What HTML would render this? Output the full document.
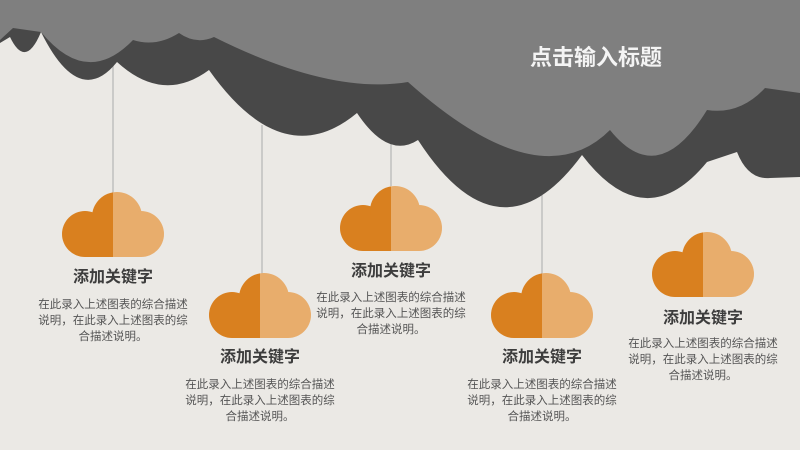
<!DOCTYPE html>
<html><head><meta charset="utf-8"><style>
body{margin:0}
#c{position:relative;width:800px;height:450px;overflow:hidden;background:#ebe9e5;font-family:"Liberation Sans","Noto Sans CJK SC",sans-serif}
.t{position:absolute;width:180px;text-align:center;font-weight:bold;font-size:16px;color:#3d3d3d;line-height:20px}
.d{position:absolute;width:156px;text-align:center;font-size:11.5px;color:#555;line-height:16px}
</style></head><body><div id="c">
<svg width="800" height="450" style="position:absolute;left:0;top:0">
<defs>
<g id="cl"><circle cx="24" cy="42" r="23"/><circle cx="56" cy="25" r="25"/><circle cx="80" cy="42" r="23"/><rect x="24" y="30" width="56" height="35"/></g>
<clipPath id="L"><rect x="0" y="0" width="52" height="70"/></clipPath>
<clipPath id="R"><rect x="52" y="0" width="60" height="70"/></clipPath>
<g id="oc"><g clip-path="url(#L)" fill="#d9801f"><use href="#cl"/></g><g clip-path="url(#R)" fill="#e8ad6c"><use href="#cl"/></g></g>
</defs>
<g stroke="#aaa" stroke-width="1">
<line x1="113" y1="60" x2="113" y2="194"/><line x1="262" y1="125" x2="262" y2="274"/>
<line x1="391" y1="130" x2="391" y2="186"/><line x1="542" y1="195" x2="542" y2="274"/>
</g>
<path fill="#484848" d="M0,0 L0,43 L10,37 Q25.5,69.5 41,32 Q79,109 117,62 Q163,104 209,70 Q283,174.5 357,113 Q388,159.5 418,140 Q500,266.5 582,155 Q645,237.5 707,162 L737,152 Q748,180 770,178 L800,177 L800,0 Z"/>
<path fill="#7f7f7f" d="M0,0 L0,40 L13,28 L41,32 Q87,88 133,40 Q156,47.5 179,33 Q196,45 214,37 Q330,95 408,82 Q540,200 610,130 Q658,190 707,110 Q740,115 765,88 L800,93 L800,0 Z"/>
<use href="#oc" x="61" y="192"/>
<use href="#oc" x="208" y="273"/>
<use href="#oc" x="339" y="186"/>
<use href="#oc" x="490" y="273"/>
<use href="#oc" x="651" y="232"/>
<text x="596" y="65" text-anchor="middle" fill="#f4f4f4" font-weight="bold" font-size="22" font-family="Liberation Sans, Noto Sans CJK SC, sans-serif">点击输入标题</text>
</svg>
<div class="t" style="left:23px;top:268px">添加关键字</div>
<div class="d" style="left:35px;top:297px">在此录入上述图表的综合描述说明，在此录入上述图表的综合描述说明。</div>
<div class="t" style="left:170px;top:348px">添加关键字</div>
<div class="d" style="left:182px;top:377px">在此录入上述图表的综合描述说明，在此录入上述图表的综合描述说明。</div>
<div class="t" style="left:301px;top:262px">添加关键字</div>
<div class="d" style="left:313px;top:290px">在此录入上述图表的综合描述说明，在此录入上述图表的综合描述说明。</div>
<div class="t" style="left:452px;top:348px">添加关键字</div>
<div class="d" style="left:464px;top:377px">在此录入上述图表的综合描述说明，在此录入上述图表的综合描述说明。</div>
<div class="t" style="left:613px;top:309px">添加关键字</div>
<div class="d" style="left:625px;top:336px">在此录入上述图表的综合描述说明，在此录入上述图表的综合描述说明。</div>
</div></body></html>
